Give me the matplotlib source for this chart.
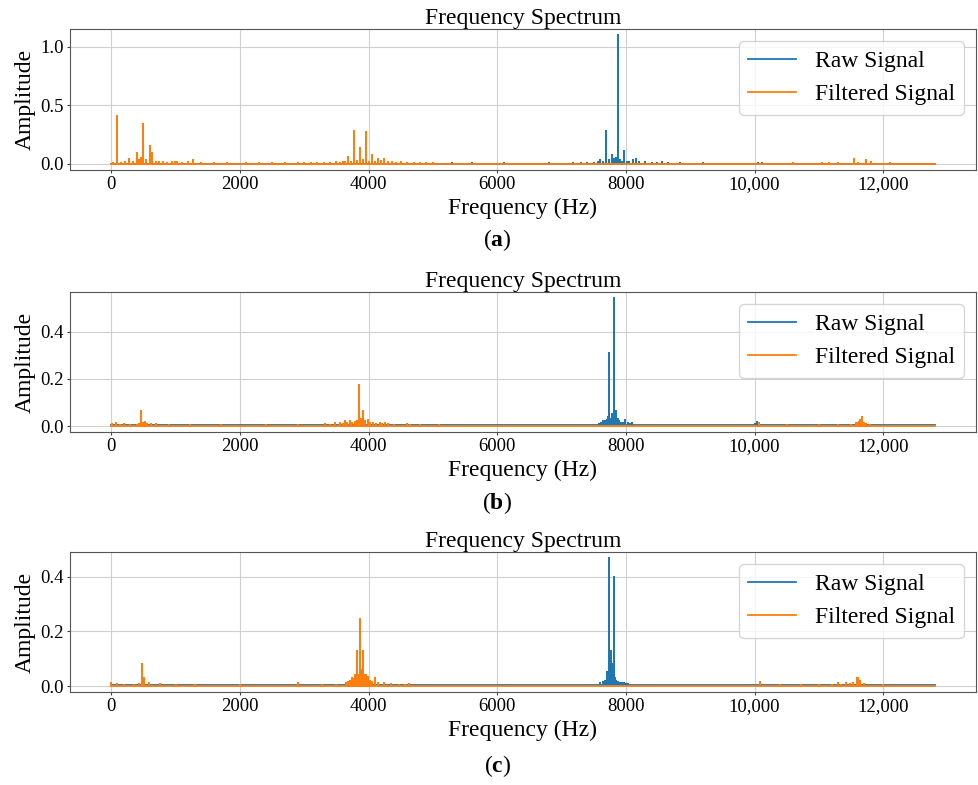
import matplotlib
matplotlib.use('Agg')
import matplotlib.pyplot as plt
import numpy as np

plt.rcParams['font.family'] = ['Liberation Serif', 'DejaVu Serif']
plt.rcParams['mathtext.fontset'] = 'custom'
plt.rcParams['mathtext.rm'] = 'Liberation Serif'
plt.rcParams['mathtext.bf'] = 'Liberation Serif:bold'

F_MAX = 12800

# spectral peaks (Hz, amplitude)
a_peak_hz = [30, 93, 150, 220, 278, 340, 402, 430, 464, 490, 500, 540, 598, 640, 690, 750, 810,
             870, 940, 990, 1030, 1100, 1196, 1278, 1400, 1600, 1800, 2100, 2300, 2500, 2700,
             2900, 3000, 3100, 3200, 3300, 3400, 3500, 3560, 3600, 3640, 3680, 3730, 3773, 3820,
             3866, 3918, 3959, 4000, 4046, 4100, 4144, 4186, 4237, 4300, 4366, 4420, 4500, 4600,
             4700, 4800, 4900, 5000, 5300, 5600, 6100, 6800, 7182, 7300, 7400, 7500, 7560, 7599,
             7640, 7692, 7740, 7779, 7810, 7846, 7871, 7907, 7940, 7969, 8010, 8050, 8103, 8149,
             8200, 8300, 8400, 8480, 8555, 8650, 8838, 9200, 10050, 10120, 10600, 11040, 11160,
             11300, 11542, 11600, 11727, 11815, 12100]
a_peak_amp = [0.008, 0.41, 0.01, 0.012, 0.04, 0.015, 0.09, 0.03, 0.05, 0.13, 0.34, 0.03, 0.155,
              0.09, 0.02, 0.012, 0.015, 0.01, 0.012, 0.015, 0.012, 0.008, 0.02, 0.035, 0.008,
              0.006, 0.005, 0.006, 0.005, 0.006, 0.006, 0.008, 0.006, 0.01, 0.007, 0.01, 0.009,
              0.012, 0.01, 0.02, 0.015, 0.055, 0.02, 0.283, 0.025, 0.135, 0.03, 0.27, 0.02, 0.077,
              0.02, 0.045, 0.025, 0.04, 0.015, 0.02, 0.01, 0.012, 0.008, 0.01, 0.007, 0.008,
              0.006, 0.006, 0.005, 0.005, 0.004, 0.006, 0.005, 0.008, 0.01, 0.02, 0.034, 0.015,
              0.283, 0.03, 0.077, 0.04, 0.05, 1.096, 0.03, 0.02, 0.106, 0.015, 0.02, 0.03, 0.04,
              0.012, 0.012, 0.01, 0.008, 0.015, 0.006, 0.01, 0.004, 0.008, 0.006, 0.004, 0.008,
              0.008, 0.006, 0.04, 0.01, 0.03, 0.012, 0.005]
a_stop = (5050, 10150)

b_peak_hz = [20, 78, 140, 200, 300, 400, 440, 471, 500, 518, 560, 620, 700, 900, 1218, 1700,
             2400, 2907, 3316, 3400, 3482, 3560, 3600, 3627, 3660, 3705, 3740, 3782, 3815, 3845,
             3870, 3886, 3917, 3950, 3990, 4030, 4067, 4120, 4171, 4210, 4249, 4300, 4400, 4596,
             4640, 4800, 5100, 5600, 6150, 6700, 7200, 7350, 7500, 7580, 7620, 7650, 7681, 7707,
             7725, 7743, 7760, 7784, 7800, 7820, 7835, 7851, 7871, 7897, 7920, 7949, 7970, 7990,
             8026, 8060, 8093, 8150, 8231, 8350, 8488, 8700, 9500, 9960, 10005, 10031, 10062,
             10500, 11000, 11300, 11500, 11570, 11599, 11625, 11645, 11666, 11702, 11728, 11800]
b_peak_amp = [0.01, 0.014, 0.006, 0.008, 0.005, 0.006, 0.008, 0.062, 0.012, 0.018, 0.01, 0.008,
              0.008, 0.005, 0.006, 0.004, 0.004, 0.005, 0.007, 0.006, 0.012, 0.015, 0.01, 0.02,
              0.015, 0.02, 0.012, 0.017, 0.02, 0.176, 0.02, 0.03, 0.063, 0.02, 0.025, 0.012,
              0.015, 0.01, 0.015, 0.01, 0.012, 0.008, 0.006, 0.01, 0.006, 0.004, 0.006, 0.004,
              0.005, 0.004, 0.004, 0.006, 0.006, 0.01, 0.015, 0.02, 0.02, 0.025, 0.04, 0.31, 0.03,
              0.05, 0.04, 0.542, 0.04, 0.065, 0.03, 0.02, 0.012, 0.015, 0.01, 0.025, 0.015, 0.008,
              0.012, 0.006, 0.006, 0.005, 0.004, 0.003, 0.004, 0.006, 0.008, 0.018, 0.012, 0.004,
              0.005, 0.005, 0.006, 0.012, 0.015, 0.018, 0.025, 0.038, 0.015, 0.01, 0.005]
b_stop = (5150, 10060)

c_peak_hz = [0, 88, 200, 350, 440, 479, 515, 593, 758, 1000, 1300, 2000, 2907, 3284, 3500, 3644,
             3680, 3711, 3737, 3760, 3789, 3814, 3840, 3866, 3892, 3912, 3933, 3964, 3995, 4021,
             4060, 4098, 4150, 4237, 4350, 4469, 4560, 4624, 5200, 5700, 6150, 6800, 7300, 7500,
             7600, 7650, 7680, 7707, 7720, 7733, 7745, 7758, 7769, 7779, 7789, 7800, 7815, 7835,
             7850, 7871, 7900, 7923, 7950, 7974, 8000, 8026, 8080, 8154, 8300, 8500, 8848, 9400,
             9980, 10031, 10082, 10400, 10725, 11000, 11200, 11290, 11350, 11419, 11480, 11522,
             11584, 11614, 11640, 11700, 12000]
c_peak_amp = [0.012, 0.008, 0.005, 0.006, 0.008, 0.082, 0.03, 0.01, 0.008, 0.005, 0.005, 0.004,
              0.012, 0.006, 0.006, 0.01, 0.015, 0.02, 0.03, 0.025, 0.04, 0.13, 0.04, 0.246, 0.06,
              0.128, 0.04, 0.04, 0.035, 0.02, 0.015, 0.03, 0.01, 0.012, 0.008, 0.006, 0.006,
              0.008, 0.006, 0.005, 0.006, 0.004, 0.005, 0.006, 0.01, 0.015, 0.02, 0.05, 0.035,
              0.467, 0.04, 0.06, 0.13, 0.05, 0.08, 0.04, 0.398, 0.03, 0.02, 0.015, 0.012, 0.01,
              0.012, 0.01, 0.008, 0.008, 0.006, 0.006, 0.005, 0.004, 0.004, 0.003, 0.006, 0.005,
              0.015, 0.004, 0.005, 0.005, 0.006, 0.01, 0.006, 0.01, 0.008, 0.012, 0.03, 0.03,
              0.02, 0.008, 0.004]
c_stop = (4650, 10060)

panels = [(a_peak_hz, a_peak_amp, a_stop, 'a'),
          (b_peak_hz, b_peak_amp, b_stop, 'b'),
          (c_peak_hz, c_peak_amp, c_stop, 'c')]


def spikes(hz, amp, floor):
    # each peak becomes a vertical stroke rising from the noise floor
    xs, ys = [0], [floor]
    for f, a in zip(hz, amp):
        xs += [f, f, f]
        ys += [floor, a, floor]
    xs.append(F_MAX)
    ys.append(floor)
    return np.array(xs), np.array(ys)


fig = plt.figure(figsize=(9.79, 7.85), dpi=100)
ax_rects = [[0.0715, 0.7834, 0.9254, 0.1796],
            [0.0715, 0.4497, 0.9254, 0.1783],
            [0.0715, 0.1185, 0.9254, 0.1783]]
cap_y = [0.694, 0.359, 0.024]

for (hz, amp, stop, tag), rect, cy in zip(panels, ax_rects, cap_y):
    ax = fig.add_axes(rect)
    hz = np.array(hz)
    amp = np.array(amp)
    keep = (hz < stop[0]) | (hz > stop[1])

    x_raw, y_raw = spikes(hz, amp, 0.003)
    x_flt, y_flt = spikes(hz[keep], amp[keep], 0.002)

    ax.plot(x_raw, y_raw, color='#1f77b4', lw=1.3, label='Raw Signal')
    ax.plot(x_flt, y_flt, color='#ff7f0e', lw=1.3, label='Filtered Signal')

    ax.set_title('Frequency Spectrum', fontsize=17, pad=3)
    ax.set_xlabel('Frequency (Hz)', fontsize=17, labelpad=3)
    ax.set_ylabel('Amplitude', fontsize=17, labelpad=3)
    ax.set_xticks([0, 2000, 4000, 6000, 8000, 10000, 12000])
    ax.set_xticklabels(['0', '2000', '4000', '6000', '8000', '10,000', '12,000'])
    ax.tick_params(labelsize=13.5, length=2.5, pad=2, color='#444444')
    ax.grid(True, color='#d0d0d0', lw=0.8)
    ax.set_axisbelow(True)
    for sp in ax.spines.values():
        sp.set_color('#555555')
    ax.legend(loc='upper right', fontsize=17)
    fig.text(0.508, cy, r'($\mathbf{%s}$)' % tag, fontsize=17, ha='center', va='center')

fig.savefig('out.png', dpi=100)
